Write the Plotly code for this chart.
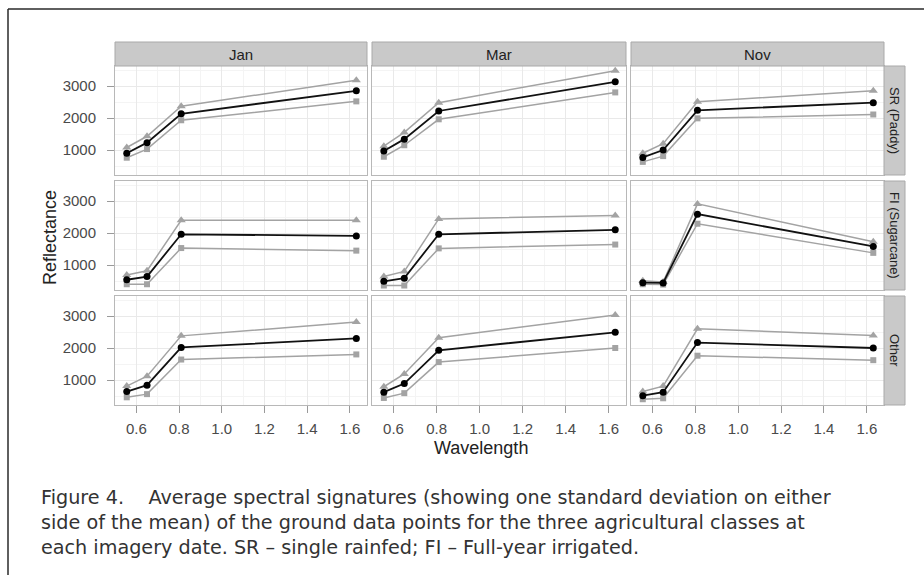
import plotly.graph_objects as go

# ---------------- data ----------------
wavelength = [0.555, 0.65, 0.81, 1.63]
dates = ["Jan", "Mar", "Nov"]
classes = ["SR (Paddy)", "FI (Sugarcane)", "Other"]
y_ticks = [1000, 2000, 3000]
x_ticks = [0.6, 0.8, 1.0, 1.2, 1.4, 1.6]

sr_jan_mean = [900, 1230, 2130, 2850]
sr_jan_upper = [1080, 1430, 2370, 3180]
sr_jan_lower = [760, 1030, 1930, 2520]
sr_mar_mean = [970, 1340, 2220, 3130]
sr_mar_upper = [1120, 1550, 2480, 3480]
sr_mar_lower = [790, 1150, 1960, 2800]
sr_nov_mean = [770, 1000, 2240, 2480]
sr_nov_upper = [900, 1200, 2510, 2850]
sr_nov_lower = [630, 810, 1990, 2110]

fi_jan_mean = [540, 640, 1960, 1910]
fi_jan_upper = [690, 820, 2400, 2400]
fi_jan_lower = [400, 400, 1530, 1450]
fi_mar_mean = [490, 590, 1960, 2100]
fi_mar_upper = [640, 800, 2440, 2550]
fi_mar_lower = [360, 360, 1520, 1640]
fi_nov_mean = [450, 440, 2590, 1580]
fi_nov_upper = [510, 470, 2910, 1730]
fi_nov_lower = [400, 390, 2290, 1380]

ot_jan_mean = [640, 840, 2020, 2300]
ot_jan_upper = [810, 1120, 2380, 2810]
ot_jan_lower = [460, 560, 1640, 1800]
ot_mar_mean = [620, 890, 1930, 2490]
ot_mar_upper = [790, 1190, 2320, 3030]
ot_mar_lower = [440, 590, 1560, 2000]
ot_nov_mean = [510, 620, 2170, 2000]
ot_nov_upper = [640, 810, 2600, 2390]
ot_nov_lower = [400, 430, 1760, 1620]

caption_lines = [
    "Figure 4.\u00a0\u00a0\u00a0 Average spectral signatures (showing one standard deviation on either",
    "side of the mean) of the ground data points for the three agricultural classes at",
    "each imagery date. SR \u2013 single rainfed; FI \u2013 Full-year irrigated.",
]

panels = [
    [(sr_jan_mean, sr_jan_upper, sr_jan_lower), (sr_mar_mean, sr_mar_upper, sr_mar_lower), (sr_nov_mean, sr_nov_upper, sr_nov_lower)],
    [(fi_jan_mean, fi_jan_upper, fi_jan_lower), (fi_mar_mean, fi_mar_upper, fi_mar_lower), (fi_nov_mean, fi_nov_upper, fi_nov_lower)],
    [(ot_jan_mean, ot_jan_upper, ot_jan_lower), (ot_mar_mean, ot_mar_upper, ot_mar_lower), (ot_nov_mean, ot_nov_upper, ot_nov_lower)],
]

# ---------------- layout geometry (pixels) ----------------
W, H = 924, 575
col_px = [(115, 367), (372, 626), (631, 884)]
row_px = [(66, 175), (181, 290), (296, 405)]
strip_top = (42, 66)
strip_right = (884, 905)

def px(x):
    return x / W

def py(y):
    return 1 - y / H

FONT = "Liberation Sans, Arial, sans-serif"
GREY_LINE = "#a3a3a3"
fig = go.Figure()
layout = dict(
    width=W, height=H,
    margin=dict(l=0, r=0, t=0, b=0),
    paper_bgcolor="white", plot_bgcolor="white",
    showlegend=False,
    font=dict(family=FONT, color="#333333"),
)

shapes = []
annotations = []

for r in range(3):
    for c in range(3):
        i = r * 3 + c + 1
        xa = "x" if i == 1 else f"x{i}"
        ya = "y" if i == 1 else f"y{i}"
        mean, upper, lower = panels[r][c]
        fig.add_trace(go.Scatter(x=wavelength, y=upper, mode="lines+markers", xaxis=xa, yaxis=ya,
                                 line=dict(color=GREY_LINE, width=1.5),
                                 marker=dict(symbol="triangle-up", size=8, color=GREY_LINE)))
        fig.add_trace(go.Scatter(x=wavelength, y=lower, mode="lines+markers", xaxis=xa, yaxis=ya,
                                 line=dict(color=GREY_LINE, width=1.5),
                                 marker=dict(symbol="square", size=6, color=GREY_LINE)))
        fig.add_trace(go.Scatter(x=wavelength, y=mean, mode="lines+markers", xaxis=xa, yaxis=ya,
                                 line=dict(color="#111111", width=1.8),
                                 marker=dict(symbol="circle", size=7, color="#000000")))
        x0, x1 = col_px[c]
        y0, y1 = row_px[r]
        bottom = (r == 2)
        left = (c == 0)
        layout["xaxis" if i == 1 else f"xaxis{i}"] = dict(
            domain=[px(x0), px(x1)], anchor=ya, range=[0.50, 1.68],
            tickvals=x_ticks, ticktext=[f"{v:.1f}" for v in x_ticks],
            showticklabels=bottom, ticks="outside" if bottom else "",
            ticklen=7, tickcolor="#9a9a9a", tickwidth=1,
            tickfont=dict(family=FONT, size=15, color="#4a4a4a"),
            ticklabelstandoff=3,
            showgrid=True, gridcolor="#e9e9e9", gridwidth=1,
            minor=dict(dtick=0.1, tick0=0.5, showgrid=True, gridcolor="#f4f4f4", gridwidth=1),
            showline=True, mirror=True, linecolor="#b8b8b8", linewidth=1,
            zeroline=False, fixedrange=True,
        )
        layout["yaxis" if i == 1 else f"yaxis{i}"] = dict(
            domain=[py(y1), py(y0)], anchor=xa, range=[220, 3625],
            tickvals=y_ticks, ticktext=[str(v) for v in y_ticks],
            showticklabels=left, ticks="outside" if left else "",
            ticklen=7, tickcolor="#9a9a9a", tickwidth=1,
            tickfont=dict(family=FONT, size=15, color="#4a4a4a"),
            ticklabelstandoff=8,
            showgrid=True, gridcolor="#e9e9e9", gridwidth=1,
            minor=dict(dtick=500, tick0=500, showgrid=True, gridcolor="#f4f4f4", gridwidth=1),
            showline=True, mirror=True, linecolor="#b8b8b8", linewidth=1,
            zeroline=False, fixedrange=True,
        )

# top strips
for c, d in enumerate(dates):
    x0, x1 = col_px[c]
    shapes.append(dict(type="rect", xref="paper", yref="paper",
                       x0=px(x0), x1=px(x1), y0=py(strip_top[1]), y1=py(strip_top[0]),
                       fillcolor="#c9c9c9", line=dict(color="#a9a9a9", width=1), layer="above"))
    annotations.append(dict(text=d, xref="paper", yref="paper", x=px((x0 + x1) / 2),
                            y=py((strip_top[0] + strip_top[1]) / 2), showarrow=False,
                            xanchor="center", yanchor="middle",
                            font=dict(family=FONT, size=15, color="#222222")))
# right strips
for r, cl in enumerate(classes):
    y0, y1 = row_px[r]
    shapes.append(dict(type="rect", xref="paper", yref="paper",
                       x0=px(strip_right[0]), x1=px(strip_right[1]), y0=py(y1), y1=py(y0),
                       fillcolor="#c9c9c9", line=dict(color="#a9a9a9", width=1), layer="above"))
    annotations.append(dict(text=cl, xref="paper", yref="paper",
                            x=px((strip_right[0] + strip_right[1]) / 2),
                            y=py((y0 + y1) / 2), showarrow=False, textangle=90,
                            xanchor="center", yanchor="middle",
                            font=dict(family=FONT, size=13, color="#222222")))

# axis titles
annotations.append(dict(text="Wavelength", xref="paper", yref="paper", x=px(481), y=py(448),
                        showarrow=False, xanchor="center", yanchor="middle",
                        font=dict(family=FONT, size=18, color="#222222")))
annotations.append(dict(text="Reflectance", xref="paper", yref="paper", x=px(50), y=py(238),
                        showarrow=False, xanchor="center", yanchor="middle", textangle=-90,
                        font=dict(family=FONT, size=18, color="#222222")))

# caption (one multi-line text block)
annotations.append(dict(text="<br>".join(caption_lines), xref="paper", yref="paper",
                        x=px(40), y=py(522.5), showarrow=False, xanchor="left", yanchor="middle",
                        align="left", borderpad=0,
                        font=dict(family="DejaVu Sans, sans-serif", size=19.2, color="#333333")))

# figure frame (top and left rules)
shapes.append(dict(type="line", xref="paper", yref="paper", x0=px(8), x1=1.0, y0=py(9), y1=py(9),
                   line=dict(color="#2a2a2a", width=1.5)))
shapes.append(dict(type="line", xref="paper", yref="paper", x0=px(8), x1=px(8), y0=py(9), y1=0,
                   line=dict(color="#2a2a2a", width=1.5)))

layout["shapes"] = shapes
layout["annotations"] = annotations
fig.update_layout(**layout)
fig.write_html(
    "out.html",
    config={"displayModeBar": False},
    post_script="document.body.style.margin='0';document.body.style.overflow='hidden';"
                "document.documentElement.style.overflow='hidden';",
)
